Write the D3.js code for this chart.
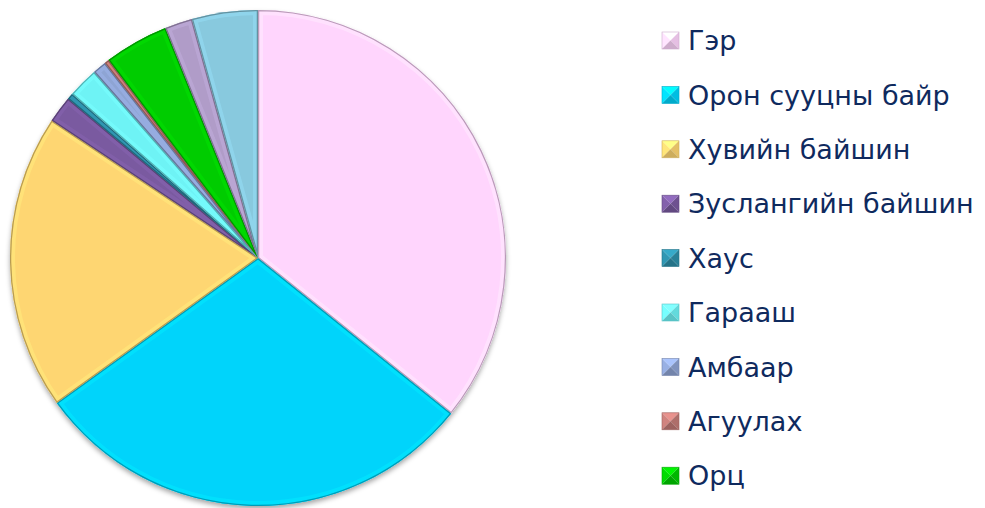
<!DOCTYPE html>
<html lang="mn">
<head>
<meta charset="UTF-8">
<title></title>
<script src="https://d3js.org/d3.v7.min.js"></script>
<style>
    body { margin: 0; background: #fff; overflow: hidden; }
    .legend-text { font-family: "DejaVu Sans", Verdana, sans-serif; fill: #0f2a5e; }
</style>
</head>
<body>
<svg id="chart" width="985" height="508"></svg>
<script>
    // data (share of dwellings, %)
    const categories = ["Гэр", "Орон сууцны байр", "Хувийн байшин", "Зуслангийн байшин", "Хаус",
                        "Гарааш", "Амбаар", "Агуулах", "Орц"];
    // two last slices have no legend entry in the original
    const values = [35.8, 29.3, 19.3, 1.75, 0.4, 2.0, 0.9, 0.3, 4.2, 1.8, 4.3];
    const colors = ["#ffd5fd", "#00d4fb", "#fed672", "#7a5aa0", "#2d8ea8", "#6ef3f5",
                    "#8ea4d4", "#c27a76", "#00cc00", "#b09cc8", "#88c9de"];

    const svg = d3.select("#chart");
    const cx = 258, cy = 258, radius = 248;

    const defs = svg.append("defs");
    const shadow = defs.append("filter").attr("id", "shadow")
        .attr("x", "-10%").attr("y", "-10%").attr("width", "120%").attr("height", "120%");
    shadow.append("feDropShadow")
        .attr("dx", 0).attr("dy", 3).attr("stdDeviation", 2.5)
        .attr("flood-color", "#000").attr("flood-opacity", 0.35);

    const pie = d3.pie().sort(null).value(d => d);
    const arcs = pie(values);
    const arc = d3.arc().innerRadius(0).outerRadius(radius);

    const g = svg.append("g").attr("transform", "translate(" + cx + "," + cy + ")");

    // clip paths so the bevel strokes stay inside each slice
    arcs.forEach((d, i) => {
        defs.append("clipPath").attr("id", "clip" + i)
            .append("path").attr("d", arc(d));
    });

    const pieG = g.append("g").attr("filter", "url(#shadow)");
    pieG.selectAll("path.slice")
        .data(arcs)
        .join("path")
        .attr("class", "slice")
        .attr("d", arc)
        .attr("fill", (d, i) => colors[i]);

    // bevel: light band along the edges, then darker rim
    g.selectAll("path.hi")
        .data(arcs)
        .join("path")
        .attr("class", "hi")
        .attr("d", arc)
        .attr("clip-path", (d, i) => "url(#clip" + i + ")")
        .attr("fill", "none")
        .attr("stroke", (d, i) => d3.color(colors[i]).brighter(0.25))
        .attr("stroke-opacity", 0.6)
        .attr("stroke-width", 10);
    g.selectAll("path.rim")
        .data(arcs)
        .join("path")
        .attr("class", "rim")
        .attr("d", arc)
        .attr("clip-path", (d, i) => "url(#clip" + i + ")")
        .attr("fill", "none")
        .attr("stroke", (d, i) => d3.color(colors[i]).darker(0.9))
        .attr("stroke-width", 2.5);

    // legend
    const legend = svg.append("g").attr("transform", "translate(662,32)");
    const rowH = 54.4, sq = 17;
    const rows = legend.selectAll("g.row")
        .data(categories)
        .join("g")
        .attr("class", "row")
        .attr("transform", (d, i) => "translate(0," + (i * rowH) + ")");

    // pyramid-shaped marker: four triangles shaded differently
    const faces = [
        {pts: [[0, 0], [sq, 0], [sq / 2, sq / 2]], k: 0.5},
        {pts: [[0, 0], [0, sq], [sq / 2, sq / 2]], k: 0.2},
        {pts: [[sq, 0], [sq, sq], [sq / 2, sq / 2]], k: -0.3},
        {pts: [[0, sq], [sq, sq], [sq / 2, sq / 2]], k: -0.6}
    ];
    rows.each(function (d, i) {
        const row = d3.select(this);
        faces.forEach(f => {
            const c = d3.color(colors[i]);
            row.append("path")
                .attr("d", "M" + f.pts.join("L") + "Z")
                .attr("fill", f.k >= 0 ? c.brighter(f.k) : c.darker(-f.k));
        });
        row.append("rect").attr("width", sq).attr("height", sq)
            .attr("fill", "none").attr("stroke", d3.color(colors[i]).darker(0.6)).attr("stroke-width", 0.6);
    });

    rows.append("text")
        .attr("class", "legend-text")
        .attr("x", 26)
        .attr("y", sq / 2)
        .attr("dy", "0.36em")
        .style("font-size", "27px")
        .text(d => d);
</script>
</body>
</html>
